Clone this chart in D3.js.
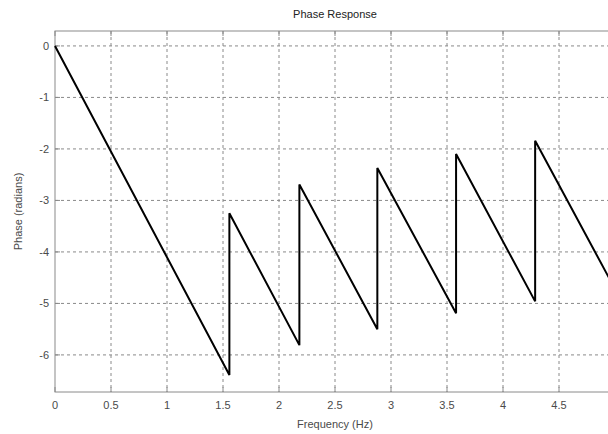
<!DOCTYPE html>
<html>
<head>
<meta charset="utf-8">
<script src="https://cdn.jsdelivr.net/npm/d3@7"></script>
<style>
  html, body { margin: 0; padding: 0; background: #fff; overflow: hidden; }
  svg { display: block; }
  .lbl { font-family: "Liberation Sans", Arial, sans-serif; font-size: 11px; fill: #4a4a4a; }
</style>
</head>
<body>
<svg id="chart" width="608" height="434"></svg>
<script>
// 数据：相位曲线的折点（频率 Hz，相位 rad）
const freqs  = [0, 1.557, 1.557, 2.182, 2.182, 2.878, 2.878, 3.581, 3.581, 4.287, 4.287, 5.0];
const phases = [0, -6.39, -3.25, -5.81, -2.69, -5.50, -2.37, -5.19, -2.10, -4.96, -1.84, -4.72];

// 刻度（5 的标签在画面外，不显示）
const xTicks = [0, 0.5, 1, 1.5, 2, 2.5, 3, 3.5, 4, 4.5, 5];
const xTickLabels = [0, 0.5, 1, 1.5, 2, 2.5, 3, 3.5, 4, 4.5];
const yTicks = [0, -1, -2, -3, -4, -5, -6];

const svg = d3.select("#chart");

// 坐标区（右侧超出画面）
const mLeft = 55, mRight = 615, mTop = 31, mBottom = 392;

const x = d3.scaleLinear().domain([0, 5]).range([mLeft, mRight]);
const y = d3.scaleLinear().domain([-6.72, 0.29]).range([mBottom, mTop]);

const grey = "#8a8a8a";

// 网格线
svg.append("g").selectAll("line")
    .data(xTicks.filter(d => d > 0))
    .enter().append("line")
    .attr("x1", d => x(d)).attr("x2", d => x(d))
    .attr("y1", mTop).attr("y2", mBottom)
    .attr("stroke", grey).attr("stroke-dasharray", "3,3");

svg.append("g").selectAll("line")
    .data(yTicks)
    .enter().append("line")
    .attr("x1", mLeft).attr("x2", mRight)
    .attr("y1", d => y(d)).attr("y2", d => y(d))
    .attr("stroke", grey).attr("stroke-dasharray", "3,3");

// 坐标轴框
svg.append("rect")
    .attr("x", mLeft).attr("y", mTop)
    .attr("width", mRight - mLeft).attr("height", mBottom - mTop)
    .attr("fill", "none").attr("stroke", grey);

// 内侧刻度
const tickLen = 5;
svg.append("g").selectAll("line")
    .data(xTicks)
    .enter().append("line")
    .attr("x1", d => x(d)).attr("x2", d => x(d))
    .attr("y1", mTop).attr("y2", mTop + tickLen)
    .attr("stroke", grey);
svg.append("g").selectAll("line")
    .data(xTicks)
    .enter().append("line")
    .attr("x1", d => x(d)).attr("x2", d => x(d))
    .attr("y1", mBottom).attr("y2", mBottom - tickLen)
    .attr("stroke", grey);
svg.append("g").selectAll("line")
    .data(yTicks)
    .enter().append("line")
    .attr("x1", mLeft).attr("x2", mLeft + tickLen)
    .attr("y1", d => y(d)).attr("y2", d => y(d))
    .attr("stroke", grey);

// 刻度标签
svg.append("g").selectAll("text")
    .data(xTickLabels)
    .enter().append("text")
    .attr("class", "lbl")
    .attr("x", d => x(d))
    .attr("y", mBottom + 17)
    .attr("text-anchor", "middle")
    .text(d => d);

svg.append("g").selectAll("text")
    .data(yTicks)
    .enter().append("text")
    .attr("class", "lbl")
    .attr("x", mLeft - 6)
    .attr("y", d => y(d))
    .attr("dy", "0.35em")
    .attr("text-anchor", "end")
    .text(d => d);

// 相位曲线
const line = d3.line()
    .x((d, i) => x(freqs[i]))
    .y(d => y(d));

svg.append("path")
    .datum(phases)
    .attr("fill", "none")
    .attr("stroke", "#000")
    .attr("stroke-width", 2)
    .attr("stroke-linejoin", "miter")
    .attr("d", line);

// 标题与轴标题
svg.append("text")
    .attr("class", "lbl")
    .attr("x", (mLeft + mRight) / 2)
    .attr("y", 18)
    .attr("text-anchor", "middle")
    .style("fill", "#222")
    .text("Phase Response");

svg.append("text")
    .attr("class", "lbl")
    .attr("x", (mLeft + mRight) / 2)
    .attr("y", 428)
    .attr("text-anchor", "middle")
    .text("Frequency (Hz)");

svg.append("text")
    .attr("class", "lbl")
    .attr("transform", `translate(22,${(mTop + mBottom) / 2}) rotate(-90)`)
    .attr("text-anchor", "middle")
    .text("Phase (radians)");
</script>
</body>
</html>
